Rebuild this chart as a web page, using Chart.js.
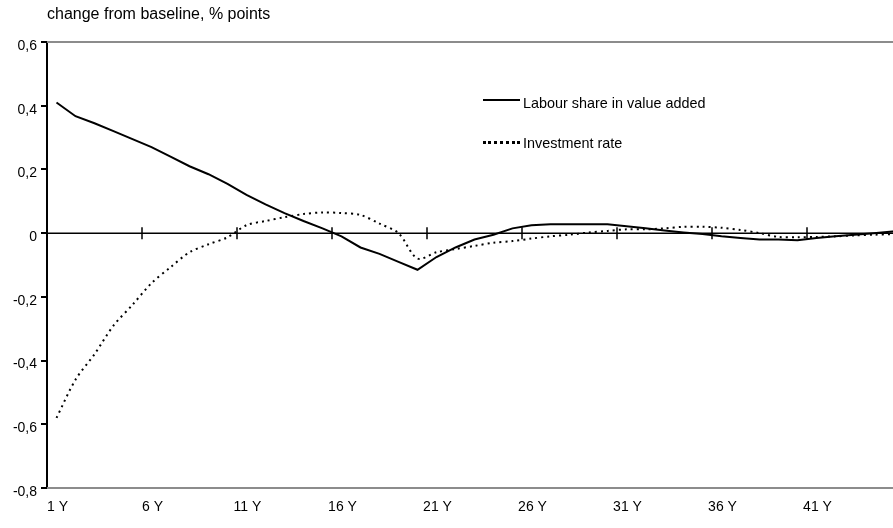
<!DOCTYPE html>
<html>
<head>
<meta charset="utf-8">
<script src="https://cdn.jsdelivr.net/npm/chart.js@4.4.1/dist/chart.umd.min.js"></script>
<style>
  html, body { margin: 0; padding: 0; background: #fff; }
  #wrap { position: relative; width: 893px; height: 528px; overflow: hidden; font-family: "Liberation Sans", Arial, sans-serif; }
  #chart { position: absolute; left: 0; top: 0; }
  .txt { position: absolute; color: #000; white-space: nowrap; }
  #title { left: 47px; top: 5px; font-size: 16px; }
  .key { position: absolute; left: 483px; width: 37px; height: 0; }
  #key1 { top: 99px; border-top: 2px solid #000; }
  #key2 { top: 141px; border-top: 3px dotted #000; }
  #lab1 { left: 523px; top: 95px; font-size: 14.4px; }
  #lab2 { left: 523px; top: 135px; font-size: 14.4px; }
</style>
</head>
<body>
<div id="wrap">
  <canvas id="chart" width="921" height="528"></canvas>
  <div id="title" class="txt">change from baseline, % points</div>
  <div id="key1" class="key"></div>
  <div id="lab1" class="txt">Labour share in value added</div>
  <div id="key2" class="key"></div>
  <div id="lab2" class="txt">Investment rate</div>
</div>
<script>
// categories: 1 Y .. 46 Y (the last one runs off the right edge)
let years = [];
for (let i = 1; i <= 46; i++) years.push(i + ' Y');

let labourShare = [
  0.41, 0.367, 0.345, 0.32, 0.295, 0.27, 0.24, 0.21, 0.185, 0.155,
  0.12, 0.09, 0.063, 0.038, 0.015, -0.01, -0.045, -0.065, -0.09, -0.115,
  -0.075, -0.045, -0.02, -0.005, 0.015, 0.025, 0.028, 0.028, 0.028, 0.028,
  0.022, 0.015, 0.008, 0.002, -0.003, -0.01, -0.015, -0.02, -0.02, -0.022,
  -0.015, -0.01, -0.005, 0, 0.005, 0.01
];
let investmentRate = [
  -0.58, -0.46, -0.38, -0.29, -0.225, -0.157, -0.107, -0.06, -0.035, -0.013,
  0.025, 0.038, 0.05, 0.06, 0.065, 0.063, 0.057, 0.03, 0, -0.08,
  -0.06, -0.05, -0.04, -0.03, -0.025, -0.017, -0.01, -0.005, 0.002, 0.007,
  0.012, 0.012, 0.015, 0.02, 0.02, 0.017, 0.01, 0, -0.012, -0.013,
  -0.012, -0.01, -0.007, -0.005, -0.003, -0.002
];
let yMin = -0.8, yMax = 0.6, yStep = 0.2;
let labelEvery = 5;

// zero axis with tick marks, grey top / bottom frame lines
let frame = {
  id: 'frame',
  beforeDatasetsDraw(chart) {
    const ctx = chart.ctx;
    const a = chart.chartArea;
    const x = chart.scales.x, y = chart.scales.y;
    ctx.save();
    ctx.strokeStyle = '#8c8c8c';
    ctx.lineWidth = 2;
    ctx.beginPath();
    ctx.moveTo(a.left, y.getPixelForValue(yMax));
    ctx.lineTo(a.right, y.getPixelForValue(yMax));
    ctx.moveTo(a.left, y.getPixelForValue(yMin));
    ctx.lineTo(a.right, y.getPixelForValue(yMin));
    ctx.stroke();

    const y0 = y.getPixelForValue(0);
    ctx.strokeStyle = '#000';
    ctx.lineWidth = 1.5;
    ctx.beginPath();
    ctx.moveTo(a.left, y0);
    ctx.lineTo(a.right, y0);
    const half = (x.getPixelForValue(1) - x.getPixelForValue(0)) / 2;
    for (let i = labelEvery; i < years.length; i += labelEvery) {
      const px = Math.round(x.getPixelForValue(i) - half);
      ctx.moveTo(px, y0 - 6);
      ctx.lineTo(px, y0 + 6);
    }
    ctx.stroke();
    ctx.restore();
  }
};

new Chart(document.getElementById('chart'), {
  type: 'line',
  data: {
    labels: years,
    datasets: [
      {
        label: 'Labour share in value added',
        data: labourShare,
        borderColor: '#000',
        borderWidth: 2,
        pointRadius: 0,
        tension: 0
      },
      {
        label: 'Investment rate',
        data: investmentRate,
        borderColor: '#000',
        borderWidth: 2,
        borderDash: [2, 4],
        pointRadius: 0,
        tension: 0.3
      }
    ]
  },
  options: {
    responsive: false,
    animation: false,
    layout: { padding: { top: 42, right: 0, left: 0, bottom: 0 } },
    plugins: { legend: { display: false }, tooltip: { enabled: false } },
    scales: {
      x: {
        offset: true,
        grid: { display: false },
        border: { display: false },
        afterFit: (s) => { s.height = 40; },
        ticks: {
          autoSkip: false,
          maxRotation: 0,
          padding: 3,
          labelOffset: 1,
          color: '#000',
          font: { family: 'Liberation Sans', size: 14 },
          callback: (v, i) => (i % labelEvery === 0 && i < years.length - 1 ? years[i] : '')
        }
      },
      y: {
        min: yMin,
        max: yMax,
        afterFit: (s) => { s.width = 47; },
        border: { color: '#000', width: 2 },
        grid: { drawOnChartArea: false, color: '#000', lineWidth: 2, tickLength: 6 },
        ticks: {
          stepSize: yStep,
          padding: 4,
          labelOffset: 4,
          color: '#000',
          font: { family: 'Liberation Sans', size: 14 },
          callback: (v) => (Math.abs(v) < 1e-9 ? '0' : v.toFixed(1).replace('.', ','))
        }
      }
    }
  },
  plugins: [frame]
});
</script>
</body>
</html>
